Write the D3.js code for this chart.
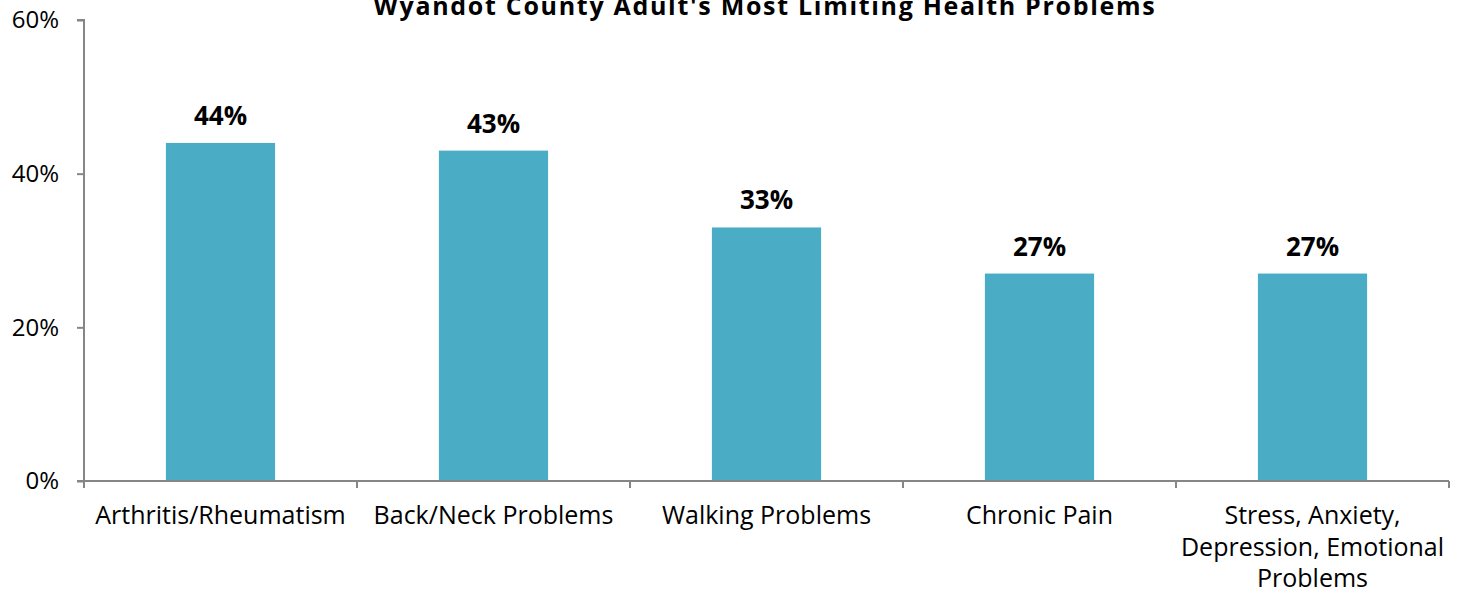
<!DOCTYPE html>
<html><head><meta charset="utf-8">
<script src="https://cdn.jsdelivr.net/npm/d3@7"></script>
<style>body{margin:0;background:#fff}svg{display:block}text{font-family:"Open Sans","Noto Sans",sans-serif}</style>
</head><body><svg id="c" width="1465" height="591"></svg>
<script>
const title = "Wyandot County Adult's Most Limiting Health Problems";
const categories = ["Arthritis/Rheumatism","Back/Neck Problems","Walking Problems","Chronic Pain","Stress, Anxiety, Depression, Emotional Problems"];
const categoryLines = [["Arthritis/Rheumatism"],["Back/Neck Problems"],["Walking Problems"],["Chronic Pain"],["Stress, Anxiety,","Depression, Emotional","Problems"]];
const values = [0.44,0.43,0.33,0.27,0.27];
const yTicks = [0,0.2,0.4,0.6];

const svg = d3.select("#c");
const m = {l:84, r:16, t:20, b:110};
const W = 1465, H = 591;
const xb = d3.scaleBand().domain(categories).range([m.l, W-m.r]);
const y = d3.scaleLinear().domain([0,0.6]).range([H-m.b, m.t]);
const fmt = d3.format(".0%");

svg.append("text").attr("x", 765).attr("y", 15).attr("text-anchor","middle")
  .attr("font-weight","bold").attr("font-size",25).attr("letter-spacing",1.7).attr("fill","#000").text(title);

svg.selectAll("rect.bar").data(values).join("rect").attr("class","bar")
  .attr("x",(d,i)=>xb(categories[i])+xb.bandwidth()*0.3).attr("width",xb.bandwidth()*0.4)
  .attr("y",d=>y(d)).attr("height",d=>y(0)-y(d)).attr("fill","#4BACC6");

svg.selectAll("text.lbl").data(values).join("text").attr("class","lbl")
  .attr("x",(d,i)=>xb(categories[i])+xb.bandwidth()/2).attr("y",d=>y(d)-18)
  .attr("text-anchor","middle").attr("font-weight","bold").attr("font-size",26).attr("fill","#000")
  .text(d=>fmt(d));

// y axis
const ya = svg.append("g").attr("transform",`translate(${m.l},0)`)
  .call(d3.axisLeft(y).tickValues(yTicks).tickFormat(fmt).tickSize(7).tickPadding(18));
ya.select(".domain").attr("stroke","#868686").attr("stroke-width",2).attr("d",`M-7,${y(0.6)}H0V${y(0)}H-7`);
ya.selectAll(".tick line").attr("stroke","#868686").attr("stroke-width",2);
ya.selectAll(".tick text").attr("font-size",24).attr("fill","#000").attr("font-family","'Open Sans','Noto Sans',sans-serif");

// x axis
const xa = svg.append("g").attr("transform",`translate(0,${y(0)})`);
xa.append("line").attr("x1",m.l).attr("x2",W-m.r).attr("y1",0).attr("y2",0).attr("stroke","#868686").attr("stroke-width",2);
const bounds = categories.map(c=>xb(c)).concat([xb(categories[categories.length-1])+xb.bandwidth()]);
xa.selectAll("line.t").data(bounds).join("line").attr("class","t")
  .attr("x1",d=>d).attr("x2",d=>d).attr("y1",0).attr("y2",7).attr("stroke","#868686").attr("stroke-width",2);
const lab = xa.selectAll("text.cat").data(categoryLines).join("text").attr("class","cat")
  .attr("text-anchor","middle").attr("font-size",25).attr("fill","#000");
lab.each(function(lines,i){
  const cx = xb(categories[i])+xb.bandwidth()/2;
  d3.select(this).selectAll("tspan").data(lines).join("tspan")
    .attr("x",cx).attr("y",(d,j)=>43+j*31.5).text(d=>d);
});
</script></body></html>
